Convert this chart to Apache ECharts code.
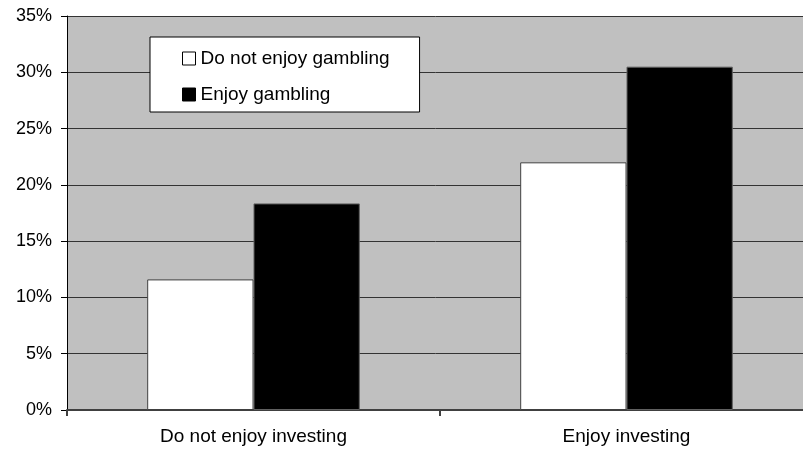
<!DOCTYPE html>
<html>
<head>
<meta charset="utf-8">
<script src="https://cdn.jsdelivr.net/npm/echarts@6/dist/echarts.min.js"></script>
<style>html,body{margin:0;padding:0;background:#fff;}#c{width:803px;height:455px;}</style>
</head>
<body>
<div id="c"></div>
<script>
var categories = ['Do not enjoy investing', 'Enjoy investing'];
var seriesNames = ['Do not enjoy gambling', 'Enjoy gambling'];
var notGambling = [11.6, 22.0];
var enjoyGambling = [18.35, 30.5];
var yTicks = { min: 0, max: 35, interval: 5 };

var chart = echarts.init(document.getElementById('c'), null, { renderer: 'canvas' });
var font = '"Liberation Sans", Arial, sans-serif';
chart.setOption({
  animation: false,
  backgroundColor: '#ffffff',
  grid: { left: 67, top: 16, right: -10, bottom: 45, outerBoundsMode: 'none', containLabel: false,
          show: true, backgroundColor: '#c0c0c0', borderWidth: 0 },
  legend: {
    orient: 'vertical',
    left: 150, top: 37,
    padding: [12, 30, 8, 32],
    itemGap: 17,
    itemWidth: 13, itemHeight: 13,
    backgroundColor: '#ffffff',
    borderColor: '#000000', borderWidth: 1,
    textStyle: { fontFamily: font, fontSize: 19, color: '#000' },
    data: [
      { name: seriesNames[0], icon: 'rect', itemStyle: { color: '#fff', borderColor: '#000', borderWidth: 1 } },
      { name: seriesNames[1], icon: 'rect', itemStyle: { color: '#000', borderColor: '#000', borderWidth: 1 } }
    ]
  },
  xAxis: {
    type: 'category',
    data: categories,
    axisLine: { lineStyle: { color: '#404040', width: 2 } },
    axisTick: { show: true, length: 6, lineStyle: { color: '#404040', width: 2 } },
    axisLabel: { fontFamily: font, fontSize: 19, color: '#000', margin: 17 },
    splitLine: { show: false }
  },
  yAxis: {
    type: 'value',
    min: yTicks.min, max: yTicks.max, interval: yTicks.interval,
    axisLine: { show: true, lineStyle: { color: '#000', width: 1 } },
    axisTick: { show: true, length: 6, lineStyle: { color: '#000' } },
    axisLabel: { fontFamily: font, fontSize: 18, color: '#000', margin: 15, formatter: '{value}%' },
    splitLine: { show: true, lineStyle: { color: '#333333', width: 1 } }
  },
  series: [
    { name: seriesNames[0], type: 'bar', data: notGambling, barGap: '0%', barCategoryGap: '43%',
      itemStyle: { color: '#ffffff', borderColor: '#404040', borderWidth: 1 } },
    { name: seriesNames[1], type: 'bar', data: enjoyGambling, barGap: '0%', barCategoryGap: '43%',
      itemStyle: { color: '#000000', borderColor: '#606060', borderWidth: 1 } }
  ]
});
</script>
</body>
</html>
